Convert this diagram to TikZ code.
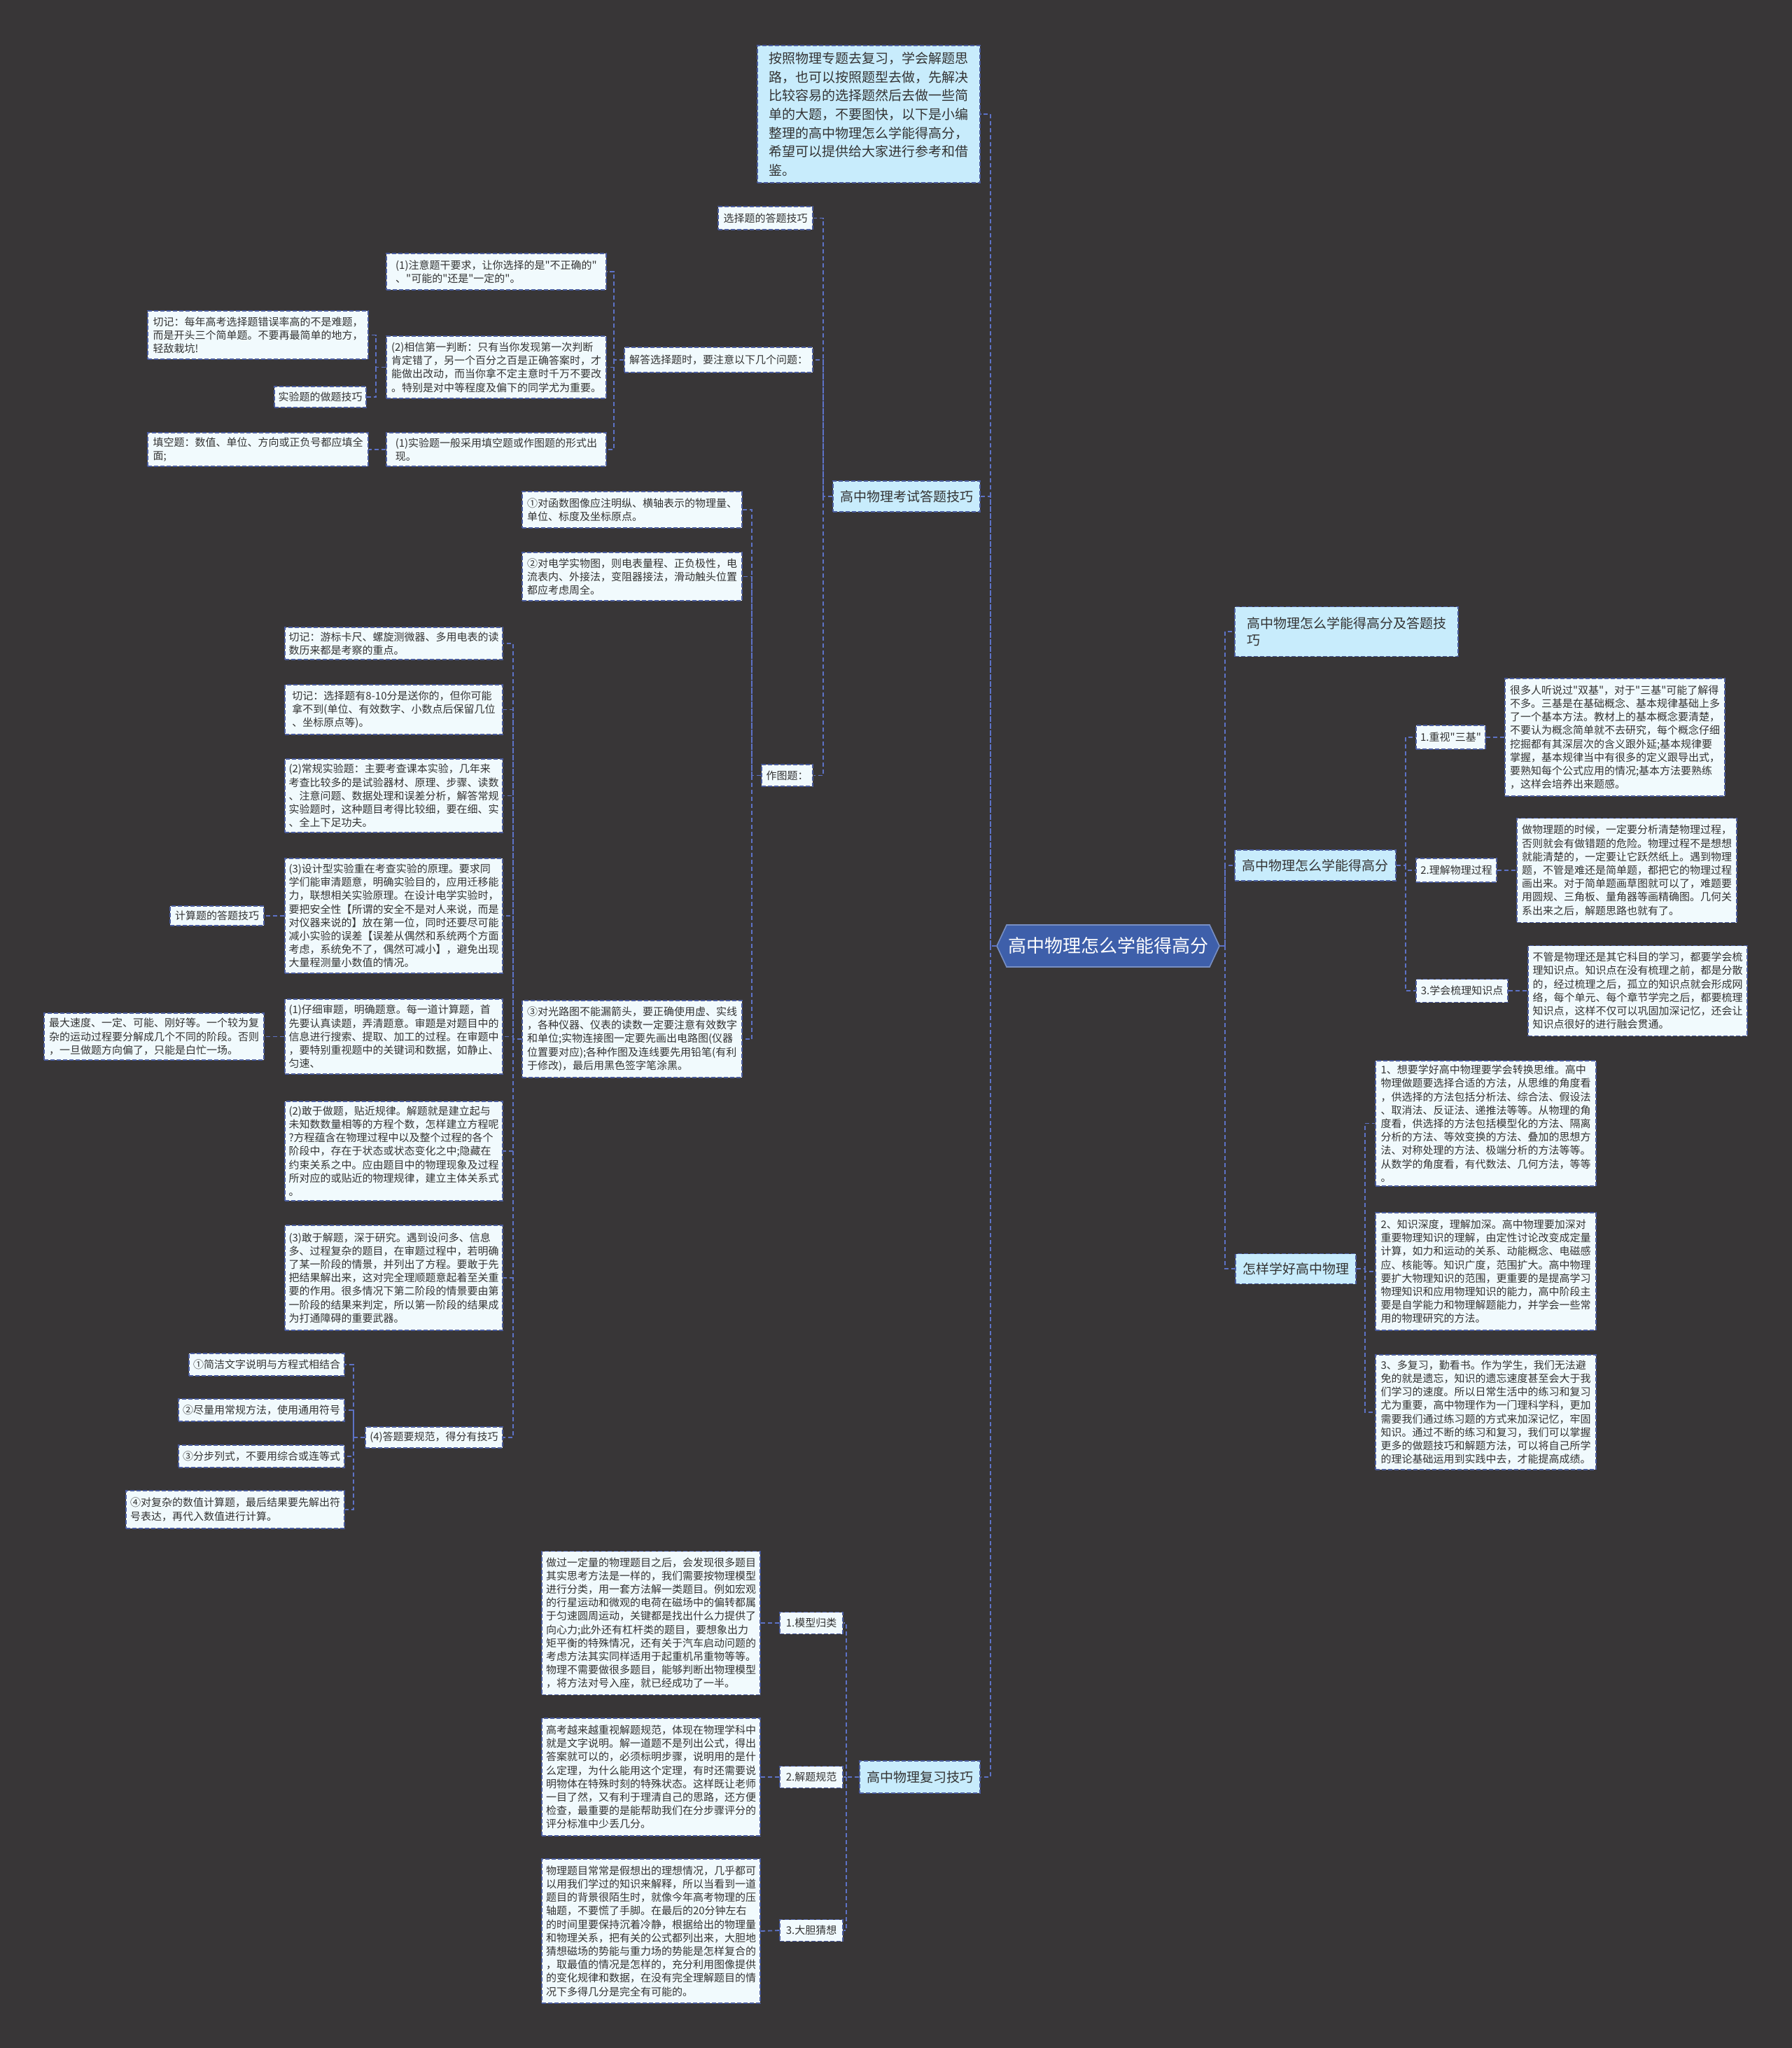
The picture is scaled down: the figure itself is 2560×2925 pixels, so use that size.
\documentclass[tikz,border=0pt]{standalone}
\usepackage{fontspec}
\newfontfamily\cjk{Noto Sans CJK SC}
\usetikzlibrary{shapes.symbols}
\definecolor{bgc}{HTML}{383637}
\definecolor{leaffill}{HTML}{F1FAFD}
\definecolor{brfill}{HTML}{C8ECFC}
\definecolor{rootfill}{HTML}{3E5FAA}
\definecolor{bline}{HTML}{4A5C9E}
\definecolor{cline}{HTML}{5D72C6}
\definecolor{txt}{HTML}{333333}
\tikzset{
  conn/.style={draw=cline, dash pattern=on 3pt off 2pt, line width=0.9pt},
  leaf/.style={draw=bline, dash pattern=on 3pt off 1.5pt, line width=0.8pt, fill=leaffill, text=txt,
    font=\cjk\fontsize{7.5pt}{9.6pt}\selectfont, align=left, inner sep=0pt, anchor=center},
  brnode/.style={leaf, fill=brfill, font=\cjk\fontsize{9.5pt}{12pt}\selectfont},
  rootnode/.style={shape=signal, signal to=east and west, signal pointer angle=130, fill=rootfill,
    draw=rootfill!70!white, line width=0.8pt, text=white, font=\cjk\fontsize{13pt}{15pt}\selectfont,
    inner xsep=1pt, inner ysep=0pt, minimum height=30pt, anchor=center}
}
\begin{document}
\begin{tikzpicture}[x=0.5pt,y=-0.5pt]
\fill[bgc] (0,0) rectangle (2560,2925);
\useasboundingbox (0,0) rectangle (2560,2925);
% buses
\coordinate (bL) at (1415,0);
\coordinate (bR) at (1750,0);
\coordinate (bKS) at (1176,0);
\coordinate (bJD) at (877,0);
\coordinate (bXX) at (537,0);
\coordinate (bZT) at (1074,0);
\coordinate (bGL) at (733,0);
\coordinate (bDT) at (505,0);
\coordinate (bFX) at (1209,0);
\coordinate (bGF) at (2008,0);
\coordinate (bZX) at (1950,0);

% root
\node[rootnode] (root) at (1583,1351) {高中物理怎么学能得高分};

% left main branches
\node[leaf, fill=brfill, font=\cjk\fontsize{9.5pt}{13.3pt}\selectfont, minimum width=159pt, minimum height=98pt] (intro) at (1241,163)
{按照物理专题去复习，学会解题思\\路，也可以按照题型去做，先解决\\比较容易的选择题然后去做一些简\\单的大题，不要图快，以下是小编\\整理的高中物理怎么学能得高分，\\希望可以提供给大家进行参考和借\\鉴。};
\node[brnode, minimum width=105pt, minimum height=22pt] (ks) at (1295,709) {高中物理考试答题技巧};
\node[brnode, minimum width=86pt, minimum height=23pt] (fx) at (1314,2538) {高中物理复习技巧};

% ks children
\node[leaf, minimum width=67.5pt, minimum height=16.5pt] (xzt) at (1093.5,311.5) {选择题的答题技巧};
\node[leaf, minimum width=134.5pt, minimum height=18pt] (jd) at (1026.5,514) {解答选择题时，要注意以下几个问题：};
\node[leaf, minimum width=36.5pt, minimum height=15.5pt] (zt) at (1124.5,1107.5) {作图题：};

% jd children
\node[leaf, minimum width=157pt, minimum height=26pt] (zy1) at (709,388)
{(1)注意题干要求，让你选择的是"不正确的"\\、"可能的"还是"一定的"。};
\node[leaf, minimum width=157pt, minimum height=44.5pt] (xx2) at (709,524.5)
{(2)相信第一判断：只有当你发现第一次判断\\肯定错了，另一个百分之百是正确答案时，才\\能做出改动，而当你拿不定主意时千万不要改\\。特别是对中等程度及偏下的同学尤为重要。};
\node[leaf, minimum width=157pt, minimum height=24pt] (sy1) at (709,642)
{(1)实验题一般采用填空题或作图题的形式出\\现。};
\node[leaf, minimum width=157.5pt, minimum height=34.5pt] (qj1) at (368.5,478.5)
{切记：每年高考选择题错误率高的不是难题，\\而是开头三个简单题。不要再最简单的地方，\\轻敌栽坑!};
\node[leaf, minimum width=65.5pt, minimum height=15pt] (syt) at (457.5,567) {实验题的做题技巧};
\node[leaf, minimum width=157.5pt, minimum height=24pt] (tk) at (368.5,642)
{填空题：数值、单位、方向或正负号都应填全\\面;};

% zt children
\node[leaf, minimum width=157pt, minimum height=26pt] (hs) at (903,728)
{①对函数图像应注明纵、横轴表示的物理量、\\单位、标度及坐标原点。};
\node[leaf, minimum width=157pt, minimum height=34.5pt] (dx) at (903,823.5)
{②对电学实物图，则电表量程、正负极性，电\\流表内、外接法，变阻器接法，滑动触头位置\\都应考虑周全。};
\node[leaf, minimum width=157pt, minimum height=55pt] (gl) at (903,1484)
{③对光路图不能漏箭头，要正确使用虚、实线\\，各种仪器、仪表的读数一定要注意有效数字\\和单位;实物连接图一定要先画出电路图(仪器\\位置要对应);各种作图及连线要先用铅笔(有利\\于修改)，最后用黑色签字笔涂黑。};

% gl children
\node[leaf, minimum width=155.5pt, minimum height=23pt] (qj2) at (562.5,919)
{切记：游标卡尺、螺旋测微器、多用电表的读\\数历来都是考察的重点。};
\node[leaf, minimum width=155.5pt, minimum height=35.5pt] (qj3) at (562.5,1013.5)
{切记：选择题有8-10分是送你的，但你可能\\拿不到(单位、有效数字、小数点后保留几位\\、坐标原点等)。};
\node[leaf, minimum width=155.5pt, minimum height=52.5pt] (cg) at (562.5,1136.5)
{(2)常规实验题：主要考查课本实验，几年来\\考查比较多的是试验器材、原理、步骤、读数\\、注意问题、数据处理和误差分析，解答常规\\实验题时，这种题目考得比较细，要在细、实\\、全上下足功夫。};
\node[leaf, minimum width=155.5pt, minimum height=82pt] (sj) at (562.5,1308)
{(3)设计型实验重在考查实验的原理。要求同\\学们能审清题意，明确实验目的，应用迁移能\\力，联想相关实验原理。在设计电学实验时，\\要把安全性【所谓的安全不是对人来说，而是\\对仪器来说的】放在第一位，同时还要尽可能\\减小实验的误差【误差从偶然和系统两个方面\\考虑，系统免不了，偶然可减小】，避免出现\\大量程测量小数值的情况。};
\node[leaf, minimum width=67pt, minimum height=14pt] (jst) at (310,1308) {计算题的答题技巧};
\node[leaf, minimum width=155.5pt, minimum height=53.5pt] (zx) at (562.5,1480.5)
{(1)仔细审题，明确题意。每一道计算题，首\\先要认真读题，弄清题意。审题是对题目中的\\信息进行搜索、提取、加工的过程。在审题中\\，要特别重视题中的关键词和数据，如静止、\\匀速、};
\node[leaf, minimum width=157pt, minimum height=33.5pt] (zd) at (220,1480.5)
{最大速度、一定、可能、刚好等。一个较为复\\杂的运动过程要分解成几个不同的阶段。否则\\，一旦做题方向偏了，只能是白忙一场。};
\node[leaf, minimum width=155.5pt, minimum height=71pt] (gz) at (562.5,1644)
{(2)敢于做题，贴近规律。解题就是建立起与\\未知数数量相等的方程个数，怎样建立方程呢\\?方程蕴含在物理过程中以及整个过程的各个\\阶段中，存在于状态或状态变化之中;隐藏在\\约束关系之中。应由题目中的物理现象及过程\\所对应的或贴近的物理规律，建立主体关系式\\。};
\node[leaf, minimum width=155.5pt, minimum height=75pt] (gj) at (562.5,1825)
{(3)敢于解题，深于研究。遇到设问多、信息\\多、过程复杂的题目，在审题过程中，若明确\\了某一阶段的情景，并列出了方程。要敢于先\\把结果解出来，这对完全理顺题意起着至关重\\要的作用。很多情况下第二阶段的情景要由第\\一阶段的结果来判定，所以第一阶段的结果成\\为打通障碍的重要武器。};
\node[leaf, minimum width=98pt, minimum height=15pt] (dt) at (620,2053) {(4)答题要规范，得分有技巧};
\node[leaf, minimum width=111pt, minimum height=16pt, anchor=east] (a1) at (493,1949) {①简洁文字说明与方程式相结合};
\node[leaf, minimum width=118.5pt, minimum height=16pt, anchor=east] (a2) at (493,2014) {②尽量用常规方法，使用通用符号};
\node[leaf, minimum width=118.5pt, minimum height=16pt, anchor=east] (a3) at (493,2080) {③分步列式，不要用综合或连等式};
\node[leaf, minimum width=156pt, minimum height=27pt, anchor=east] (a4) at (493,2156)
{④对复杂的数值计算题，最后结果要先解出符\\号表达，再代入数值进行计算。};

% fx children
\node[leaf, minimum width=45pt, minimum height=15.5pt] (mx) at (1159,2318) {1.模型归类};
\node[leaf, minimum width=45pt, minimum height=15.5pt] (jg) at (1159,2538) {2.解题规范};
\node[leaf, minimum width=45pt, minimum height=15.5pt] (dd) at (1159,2757) {3.大胆猜想};
\node[leaf, minimum width=156pt, minimum height=102.5pt] (mxt) at (930,2318)
{做过一定量的物理题目之后，会发现很多题目\\其实思考方法是一样的，我们需要按物理模型\\进行分类，用一套方法解一类题目。例如宏观\\的行星运动和微观的电荷在磁场中的偏转都属\\于匀速圆周运动，关键都是找出什么力提供了\\向心力;此外还有杠杆类的题目，要想象出力\\矩平衡的特殊情况，还有关于汽车启动问题的\\考虑方法其实同样适用于起重机吊重物等等。\\物理不需要做很多题目，能够判断出物理模型\\，将方法对号入座，就已经成功了一半。};
\node[leaf, minimum width=156pt, minimum height=84pt] (jgt) at (930,2538)
{高考越来越重视解题规范，体现在物理学科中\\就是文字说明。解一道题不是列出公式，得出\\答案就可以的，必须标明步骤，说明用的是什\\么定理，为什么能用这个定理，有时还需要说\\明物体在特殊时刻的特殊状态。这样既让老师\\一目了然，又有利于理清自己的思路，还方便\\检查，最重要的是能帮助我们在分步骤评分的\\评分标准中少丢几分。};
\node[leaf, minimum width=156pt, minimum height=103pt] (ddt) at (930,2758)
{物理题目常常是假想出的理想情况，几乎都可\\以用我们学过的知识来解释，所以当看到一道\\题目的背景很陌生时，就像今年高考物理的压\\轴题，不要慌了手脚。在最后的20分钟左右\\的时间里要保持沉着冷静，根据给出的物理量\\和物理关系，把有关的公式都列出来，大胆地\\猜想磁场的势能与重力场的势能是怎样复合的\\，取最值的情况是怎样的，充分利用图像提供\\的变化规律和数据，在没有完全理解题目的情\\况下多得几分是完全有可能的。};

% right main branches
\node[brnode, minimum width=159.5pt, minimum height=35.5pt] (jq) at (1923.5,902)
{高中物理怎么学能得高分及答题技\\巧};
\node[brnode, minimum width=115pt, minimum height=22pt] (gf) at (1879,1236) {高中物理怎么学能得高分};
\node[brnode, minimum width=86pt, minimum height=21.5pt] (zx2) at (1851,1812) {怎样学好高中物理};

\node[leaf, minimum width=49.5pt, minimum height=17pt] (sj1) at (2072.5,1053) {1.重视"三基"};
\node[leaf, minimum width=57.5pt, minimum height=17pt] (lj) at (2080.5,1243) {2.理解物理过程};
\node[leaf, minimum width=65.5pt, minimum height=16.5pt] (sl) at (2088.5,1415) {3.学会梳理知识点};
\node[leaf, minimum width=157pt, minimum height=84pt] (hd) at (2307,1053)
{很多人听说过"双基"，对于"三基"可能了解得\\不多。三基是在基础概念、基本规律基础上多\\了一个基本方法。教材上的基本概念要清楚，\\不要认为概念简单就不去研究，每个概念仔细\\挖掘都有其深层次的含义跟外延;基本规律要\\掌握，基本规律当中有很多的定义跟导出式，\\要熟知每个公式应用的情况;基本方法要熟练\\，这样会培养出来题感。};
\node[leaf, minimum width=157pt, minimum height=74.5pt] (zwl) at (2324,1243)
{做物理题的时候，一定要分析清楚物理过程，\\否则就会有做错题的危险。物理过程不是想想\\就能清楚的，一定要让它跃然纸上。遇到物理\\题，不管是难还是简单题，都把它的物理过程\\画出来。对于简单题画草图就可以了，难题要\\用圆规、三角板、量角器等画精确图。几何关\\系出来之后，解题思路也就有了。};
\node[leaf, minimum width=156.5pt, minimum height=64.5pt] (bg) at (2339.5,1415)
{不管是物理还是其它科目的学习，都要学会梳\\理知识点。知识点在没有梳理之前，都是分散\\的，经过梳理之后，孤立的知识点就会形成网\\络，每个单元、每个章节学完之后，都要梳理\\知识点，这样不仅可以巩固加深记忆，还会让\\知识点很好的进行融会贯通。};

\node[leaf, minimum width=157.5pt, minimum height=89.5pt] (r1) at (2122.5,1604.5)
{1、想要学好高中物理要学会转换思维。高中\\物理做题要选择合适的方法，从思维的角度看\\，供选择的方法包括分析法、综合法、假设法\\、取消法、反证法、递推法等等。从物理的角\\度看，供选择的方法包括模型化的方法、隔离\\分析的方法、等效变换的方法、叠加的思想方\\法、对称处理的方法、极端分析的方法等等。\\从数学的角度看，有代数法、几何方法，等等\\。};
\node[leaf, minimum width=157.5pt, minimum height=84pt] (r2) at (2122.5,1816)
{2、知识深度，理解加深。高中物理要加深对\\重要物理知识的理解，由定性讨论改变成定量\\计算，如力和运动的关系、动能概念、电磁感\\应、核能等。知识广度，范围扩大。高中物理\\要扩大物理知识的范围，更重要的是提高学习\\物理知识和应用物理知识的能力，高中阶段主\\要是自学能力和物理解题能力，并学会一些常\\用的物理研究的方法。};
\node[leaf, minimum width=157.5pt, minimum height=82pt] (r3) at (2122.5,2017)
{3、多复习，勤看书。作为学生，我们无法避\\免的就是遗忘，知识的遗忘速度甚至会大于我\\们学习的速度。所以日常生活中的练习和复习\\尤为重要，高中物理作为一门理科学科，更加\\需要我们通过练习题的方式来加深记忆，牢固\\知识。通过不断的练习和复习，我们可以掌握\\更多的做题技巧和解题方法，可以将自己所学\\的理论基础运用到实践中去，才能提高成绩。};

% connectors: root left
\draw[conn] (root.west) -- (root.west -| bL) |- (intro.east);
\draw[conn] (root.west -| bL) |- (ks.east);
\draw[conn] (root.west -| bL) |- (fx.east);
% root right
\draw[conn] (root.east) -- (root.east -| bR) |- (jq.west);
\draw[conn] (root.east -| bR) |- (gf.west);
\draw[conn] (root.east -| bR) |- (zx2.west);
% ks
\draw[conn] (ks.west) -- (ks.west -| bKS) |- (xzt.east);
\draw[conn] (ks.west -| bKS) |- (jd.east);
\draw[conn] (ks.west -| bKS) |- (zt.east);
% jd
\draw[conn] (jd.west) -- (jd.west -| bJD) |- (zy1.east);
\draw[conn] (jd.west -| bJD) |- (xx2.east);
\draw[conn] (jd.west -| bJD) |- (sy1.east);
% xx2
\draw[conn] (xx2.west) -- (xx2.west -| bXX) |- (qj1.east);
\draw[conn] (xx2.west -| bXX) |- (syt.east);
\draw[conn] (sy1.west) -- (tk.east);
% zt
\draw[conn] (zt.west) -- (zt.west -| bZT) |- (hs.east);
\draw[conn] (zt.west -| bZT) |- (dx.east);
\draw[conn] (zt.west -| bZT) |- (gl.east);
% gl
\draw[conn] (gl.west) -- (gl.west -| bGL) |- (qj2.east);
\foreach \c in {qj3,cg,sj,zx,gz,gj,dt} \draw[conn] (gl.west -| bGL) |- (\c.east);
\draw[conn] (sj.west) -- (jst.east);
\draw[conn] (zx.west) -- (zd.east);
% dt
\draw[conn] (dt.west) -- (dt.west -| bDT) |- (a1.east);
\foreach \c in {a2,a3,a4} \draw[conn] (dt.west -| bDT) |- (\c.east);
% fx
\draw[conn] (fx.west) -- (fx.west -| bFX) |- (mx.east);
\draw[conn] (fx.west -| bFX) |- (jg.east);
\draw[conn] (fx.west -| bFX) |- (dd.east);
\draw[conn] (mx.west) -- (mxt.east);
\draw[conn] (jg.west) -- (jgt.east);
\draw[conn] (dd.west) -- (ddt.east);
% gf
\draw[conn] (gf.east) -- (gf.east -| bGF) |- (sj1.west);
\draw[conn] (gf.east -| bGF) |- (lj.west);
\draw[conn] (gf.east -| bGF) |- (sl.west);
\draw[conn] (sj1.east) -- (hd.west);
\draw[conn] (lj.east) -- (zwl.west);
\draw[conn] (sl.east) -- (bg.west);
% zx2
\draw[conn] (zx2.east) -- (zx2.east -| bZX) |- (r1.west);
\draw[conn] (zx2.east -| bZX) |- (r2.west);
\draw[conn] (zx2.east -| bZX) |- (r3.west);
\end{tikzpicture}
\end{document}
